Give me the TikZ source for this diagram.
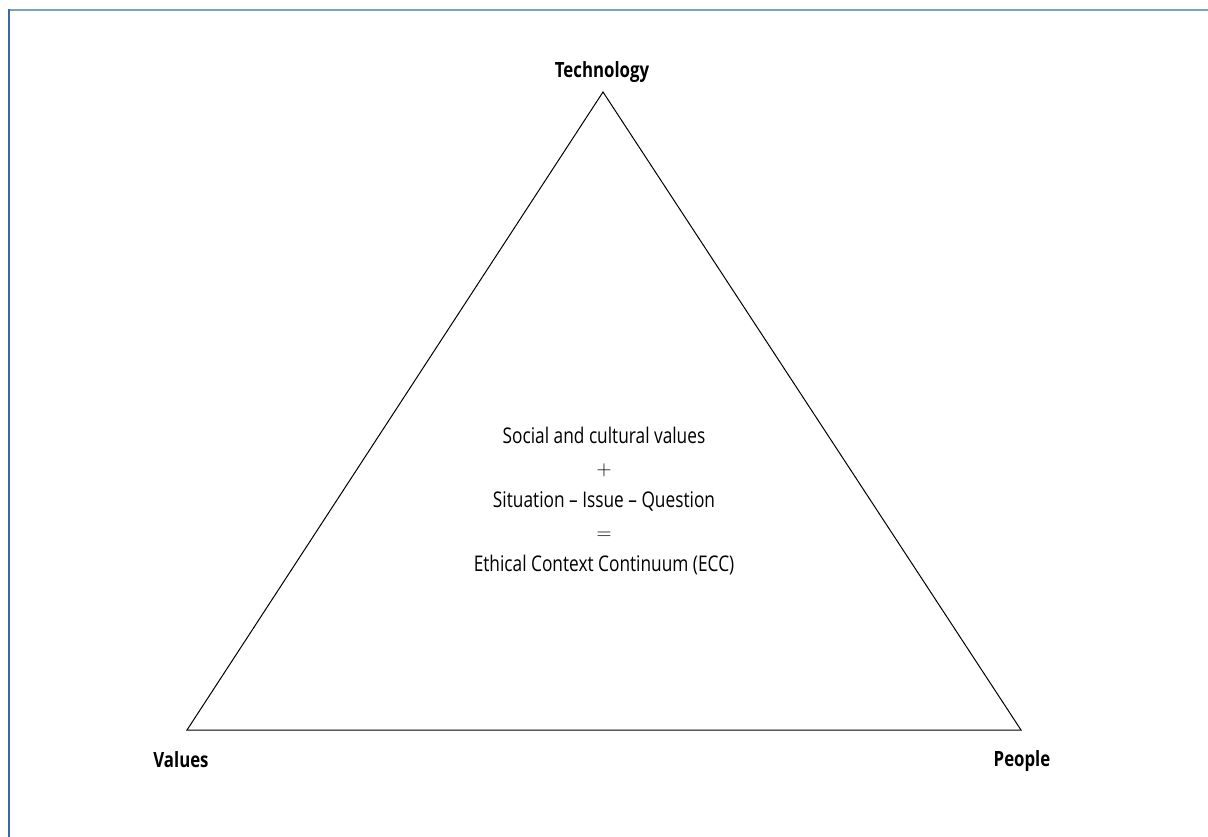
\documentclass[tikz,border=0pt]{standalone}
\usepackage{fontspec}
\setmainfont{Open Sans}[FakeStretch=0.8]
\definecolor{frametop}{RGB}{125,160,198}
\definecolor{frameleft}{RGB}{55,105,165}
\begin{document}
\begin{tikzpicture}[x=1pt,y=-1pt,
  corner/.style={font=\bfseries\fontsize{21}{25}\selectfont},
  eqn/.style={font=\fontsize{21.6}{32}\selectfont,align=center}]
\useasboundingbox (0,0) rectangle (1208,837);
% frame
\draw[frametop,line width=2] (9,10)--(1208,10);
\draw[frameleft,line width=2] (9,837)--(9,9);

\coordinate (tech) at (603,92);
\coordinate (val) at (187,730);
\coordinate (peo) at (1021,730);
\draw[line width=1] (tech)--(val)--(peo)--cycle;

\node[corner] (techlbl) at (602,72) {Technology};
\node[corner] (vallbl) at (181,760) {Values};
\node[corner] (peolbl) at (1022,761) {People};

\node[eqn] (ecc) at (604,501) {Social and cultural values\\$+$\\Situation -- Issue -- Question\\$=$\\Ethical Context Continuum (ECC)};
\end{tikzpicture}
\end{document}
